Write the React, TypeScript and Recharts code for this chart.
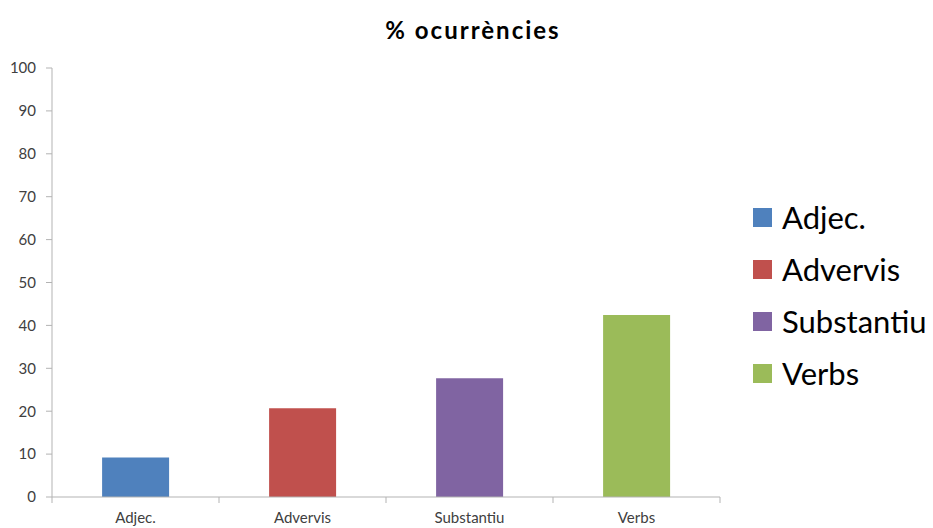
import { BarChart, Bar, Cell, XAxis, YAxis, Legend } from "recharts";

// share of occurrences per word class
const categories: string[] = ["Adjec.", "Advervis", "Substantiu", "Verbs"];
const percentages: number[] = [9.2, 20.7, 27.7, 42.4];
const yTicks: number[] = [0, 10, 20, 30, 40, 50, 60, 70, 80, 90, 100];

const barColors: string[] = [
  "#4f81bd", // blue
  "#c0504d", // red
  "#8064a2", // purple
  "#9bbb59", // green
];

const data = categories.map((name, i) => ({ name, value: percentages[i] }));

const FONT = "Lato, 'Open Sans', sans-serif";
const AXIS_GRAY = "#b3b3b3";

// label in the middle of the band, tick marks on the band edges
const CategoryTick = (props: any) => {
  const { x, y, payload, index, visibleTicksCount } = props;
  const half = payload.offset || 0;
  const top = y - 6;
  return (
    <g>
      <line x1={x - half} x2={x - half} y1={top} y2={top + 6} stroke={AXIS_GRAY} />
      {index === visibleTicksCount - 1 && (
        <line x1={x + half} x2={x + half} y1={top} y2={top + 6} stroke={AXIS_GRAY} />
      )}
      <text
        x={x}
        y={top + 26}
        textAnchor="middle"
        fontFamily={FONT}
        fontSize={15}
        fill="#404040"
      >
        {payload.value}
      </text>
    </g>
  );
};

const LegendBox = () => (
  <div
    style={{
      width: 213,
      paddingLeft: 33,
      boxSizing: "border-box",
      fontFamily: FONT,
      color: "#000",
    }}
  >
    {categories.map((c, i) => (
      <div key={c} style={{ display: "flex", alignItems: "center", height: 52 }}>
        <span
          style={{
            display: "inline-block",
            width: 19,
            height: 19,
            background: barColors[i],
            marginRight: 10,
          }}
        />
        <span style={{ fontSize: 31, whiteSpace: "nowrap" }}>{c}</span>
      </div>
    ))}
  </div>
);

export default function App() {
  return (
    <div
      style={{
        position: "absolute",
        left: 0,
        top: 0,
        width: 933,
        height: 528,
        background: "#fff",
      }}
    >
      <div
        style={{
          position: "absolute",
          left: 0,
          top: 18,
          width: 946,
          textAlign: "center",
          fontFamily: FONT,
          fontWeight: 700,
          fontSize: 24,
          letterSpacing: 2,
          lineHeight: "24px",
          color: "#000",
        }}
      >
        % ocurrències
      </div>
      <BarChart
        width={933}
        height={528}
        data={data}
        margin={{ top: 68, right: 0, bottom: 1, left: 0 }}
        barCategoryGap="30%"
      >
        <YAxis
          width={52}
          domain={[0, 100]}
          ticks={yTicks}
          interval={0}
          tickSize={6}
          tickMargin={10}
          stroke={AXIS_GRAY}
          tick={{ fill: "#404040", fontSize: 15, fontFamily: FONT }}
        />
        <XAxis
          dataKey="name"
          height={30}
          interval={0}
          tickSize={6}
          tickMargin={0}
          tickLine={false}
          stroke={AXIS_GRAY}
          tick={<CategoryTick />}
        />
        <Legend
          layout="vertical"
          align="right"
          verticalAlign="middle"
          wrapperStyle={{ top: 191 }}
          content={<LegendBox />}
        />
        <Bar dataKey="value" isAnimationActive={false}>
          {data.map((d, i) => (
            <Cell key={d.name} fill={barColors[i]} />
          ))}
        </Bar>
      </BarChart>
    </div>
  );
}
